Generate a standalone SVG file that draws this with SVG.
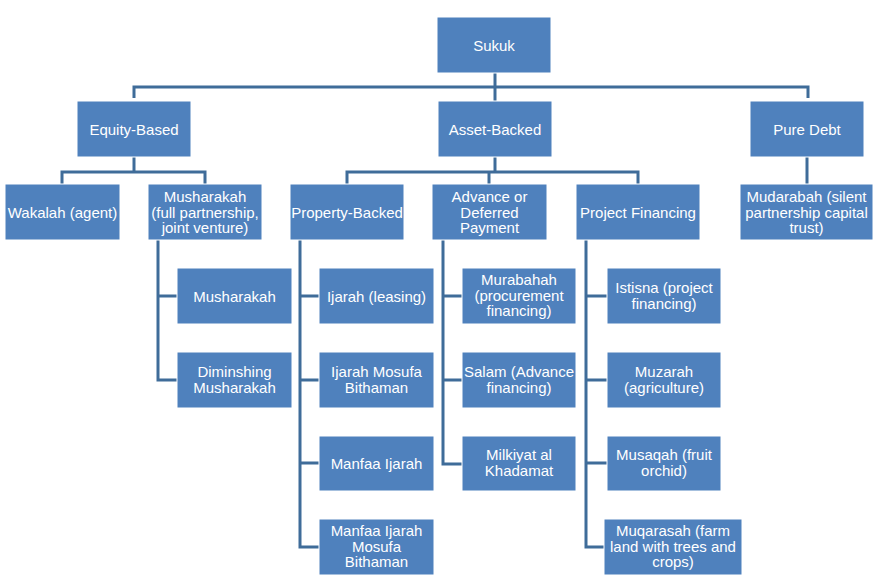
<svg xmlns="http://www.w3.org/2000/svg" width="875" height="583" viewBox="0 0 875 583">
<style>
.n rect{fill:#4F81BD;stroke:#FFFFFF;stroke-width:1}
.n text{fill:#FFFFFF;font-family:"Liberation Sans",Arial,sans-serif;font-size:15px;text-anchor:middle}
.c path{fill:none;stroke:#3F6C99;stroke-width:3}
</style>
<rect width="875" height="583" fill="#FFFFFF"/>
<g class="c" id="connectors">
<path d="M495,73 V101"/>
<path d="M134,98 V87 H808 V98"/>
<path d="M134,157 V172"/>
<path d="M62,184 V172 H205 V184"/>
<path d="M495,157 V172"/>
<path d="M347,184 V172 H638 V184"/>
<path d="M489,172 V184"/>
<path d="M807,157 V184"/>
<path d="M158,240 V380 H177 M158,296 H177"/>
<path d="M300,240 V547 H319 M300,296 H319 M300,380 H319 M300,463 H319"/>
<path d="M443,240 V464 H462 M443,296 H462 M443,380 H462"/>
<path d="M586,240 V547 H604 M586,296 H607 M586,380 H607 M586,463 H607"/>
</g>
<g class="n" id="sukuk"><rect x="437" y="17" width="114" height="56"/><text x="494" y="50.5">Sukuk</text></g>
<g class="n" id="equity"><rect x="77" y="101" width="114" height="56"/><text x="134" y="134.5">Equity-Based</text></g>
<g class="n" id="asset"><rect x="438" y="101" width="114" height="56"/><text x="495" y="134.5">Asset-Backed</text></g>
<g class="n" id="puredebt"><rect x="750" y="101" width="114" height="56"/><text x="807" y="134.5">Pure Debt</text></g>
<g class="n" id="wakalah"><rect x="5" y="184" width="115" height="56"/><text x="62.5" y="217.5">Wakalah (agent)</text></g>
<g class="n" id="musharakah"><rect x="148" y="184" width="114" height="56"/><text x="205" y="202">Musharakah</text><text x="205" y="217.5">(full partnership,</text><text x="205" y="233">joint venture)</text></g>
<g class="n" id="property"><rect x="290" y="184" width="114" height="56"/><text x="347" y="217.5">Property-Backed</text></g>
<g class="n" id="advance"><rect x="432" y="184" width="115" height="56"/><text x="489.5" y="202">Advance or</text><text x="489.5" y="217.5">Deferred</text><text x="489.5" y="233">Payment</text></g>
<g class="n" id="project"><rect x="576" y="184" width="124" height="56"/><text x="638" y="217.5">Project Financing</text></g>
<g class="n" id="mudarabah"><rect x="740" y="184" width="133" height="56"/><text x="806.5" y="202">Mudarabah (silent</text><text x="806.5" y="217.5">partnership capital</text><text x="806.5" y="233">trust)</text></g>
<g class="n" id="musharakah2"><rect x="177" y="268" width="115" height="56"/><text x="234.5" y="301.5">Musharakah</text></g>
<g class="n" id="diminishing"><rect x="177" y="352" width="115" height="56"/><text x="234.5" y="377">Diminshing</text><text x="234.5" y="392.5">Musharakah</text></g>
<g class="n" id="ijarah"><rect x="319" y="268" width="115" height="56"/><text x="376.5" y="301.5">Ijarah (leasing)</text></g>
<g class="n" id="ijarahmosufa"><rect x="319" y="352" width="115" height="56"/><text x="376.5" y="377">Ijarah Mosufa</text><text x="376.5" y="392.5">Bithaman</text></g>
<g class="n" id="manfaa"><rect x="319" y="436" width="115" height="55"/><text x="376.5" y="468.5">Manfaa Ijarah</text></g>
<g class="n" id="manfaamosufa"><rect x="319" y="519" width="115" height="56"/><text x="376.5" y="536">Manfaa Ijarah</text><text x="376.5" y="551.5">Mosufa</text><text x="376.5" y="567">Bithaman</text></g>
<g class="n" id="murabahah"><rect x="462" y="268" width="114" height="56"/><text x="519" y="285">Murabahah</text><text x="519" y="300.5">(procurement</text><text x="519" y="316">financing)</text></g>
<g class="n" id="salam"><rect x="462" y="352" width="114" height="56"/><text x="519" y="377">Salam (Advance</text><text x="519" y="392.5">financing)</text></g>
<g class="n" id="milkiyat"><rect x="462" y="436" width="114" height="55"/><text x="519" y="460">Milkiyat al</text><text x="519" y="475.5">Khadamat</text></g>
<g class="n" id="istisna"><rect x="607" y="268" width="114" height="56"/><text x="664" y="293">Istisna (project</text><text x="664" y="308.5">financing)</text></g>
<g class="n" id="muzarah"><rect x="607" y="352" width="114" height="56"/><text x="664" y="377">Muzarah</text><text x="664" y="392.5">(agriculture)</text></g>
<g class="n" id="musaqah"><rect x="607" y="436" width="114" height="55"/><text x="664" y="460">Musaqah (fruit</text><text x="664" y="475.5">orchid)</text></g>
<g class="n" id="muqarasah"><rect x="604" y="519" width="138" height="56"/><text x="673" y="536">Muqarasah (farm</text><text x="673" y="551.5">land with trees and</text><text x="673" y="567">crops)</text></g>
</svg>
